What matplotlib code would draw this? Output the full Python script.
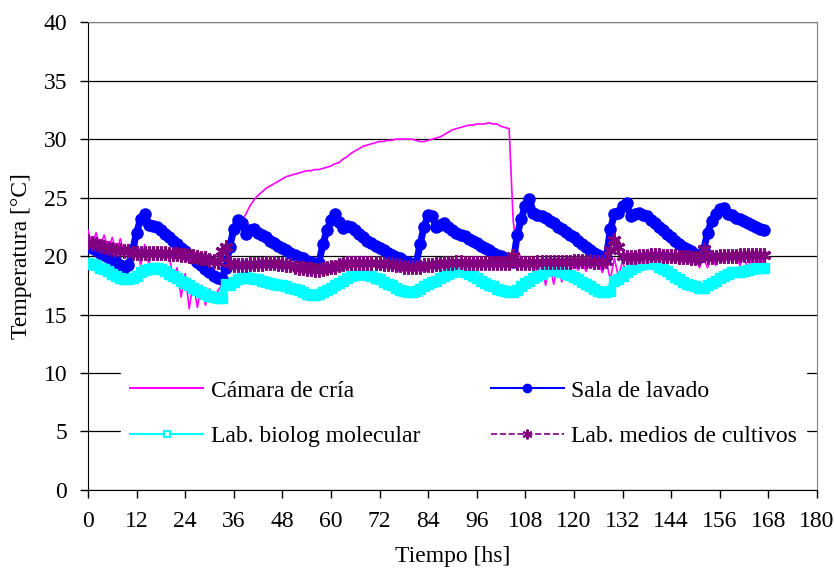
import matplotlib
matplotlib.use("Agg")
import matplotlib.pyplot as plt
from matplotlib.lines import Line2D
import numpy as np

plt.rcParams['font.family'] = ['Liberation Serif', 'DejaVu Serif']

# horas de registro (una lectura por hora)
horas = np.arange(0, 168)

camara_cria = [
    22.2, 21.0, 22.0, 20.8, 21.8, 20.6, 21.6, 20.4, 21.5, 20.0, 21.0, 19.4,
    21.1, 19.2, 21.0, 19.3, 20.6, 20.0, 20.4, 19.8, 20.3, 18.0, 19.0, 16.5,
    18.5, 15.5, 17.8, 15.6, 17.5, 15.8, 17.2, 16.0, 17.0, 17.5, 19.5, 21.0,
    22.0, 22.6, 23.0, 23.6, 24.3, 24.8, 25.2, 25.5, 25.8, 26.0, 26.2, 26.4,
    26.6, 26.8, 26.9, 27.0, 27.1, 27.2, 27.3, 27.3, 27.4, 27.4, 27.5, 27.6,
    27.7, 27.9, 28.0, 28.3, 28.5, 28.8, 29.0, 29.2, 29.4, 29.5, 29.6, 29.7,
    29.8, 29.8, 29.9, 29.9, 30.0, 30.0, 30.0, 30.0, 30.0, 29.9, 29.8, 29.8,
    29.9, 30.0, 30.1, 30.2, 30.4, 30.6, 30.8, 30.9, 31.0, 31.1, 31.2, 31.2,
    31.3, 31.3, 31.3, 31.4, 31.3, 31.3, 31.1, 31.0, 30.9, 23.0, 20.5, 19.8,
    19.5, 19.2, 19.5, 18.5, 19.5, 17.5, 19.3, 17.6, 19.2, 17.8, 19.3, 18.5,
    19.4, 18.8, 19.5, 18.7, 19.5, 18.9, 19.6, 18.6, 19.5, 18.0, 19.8, 18.2,
    19.6, 18.4, 19.7, 18.8, 19.9, 19.0, 20.0, 19.2, 20.0, 19.3, 20.1, 19.4,
    20.1, 19.4, 20.0, 19.3, 19.9, 19.2, 19.8, 19.0, 19.9, 19.0, 20.1, 19.2,
    20.3, 19.4, 20.3, 19.6, 20.1, 19.2, 20.0, 18.8, 20.2, 18.7, 20.3, 18.8,
]

sala_lavado = [
    20.8, 20.7, 20.5, 20.3, 20.1, 19.9, 19.7, 19.5, 19.2, 19.0, 19.2, 20.5,
    22.0, 23.2, 23.6, 22.7, 22.6, 22.5, 22.2, 21.9, 21.6, 21.3, 21.0, 20.7,
    20.4, 20.1, 19.8, 19.5, 19.2, 18.9, 18.6, 18.3, 18.1, 18.0, 19.0, 20.8,
    22.3, 23.1, 22.8, 21.9, 22.2, 22.3, 22.0, 21.8, 21.6, 21.3, 21.1, 20.9,
    20.7, 20.5, 20.3, 20.1, 19.9, 19.8, 19.6, 19.5, 19.3, 19.4, 21.0, 22.2,
    23.1, 23.6, 22.9, 22.4, 22.6, 22.5, 22.2, 21.9, 21.6, 21.3, 21.1, 20.9,
    20.7, 20.5, 20.3, 20.1, 19.9, 19.8, 19.6, 19.5, 19.3, 19.3, 21.0, 22.5,
    23.5, 23.4, 22.5, 22.7, 22.8, 22.5, 22.2, 22.0, 21.8, 21.7, 21.5, 21.3,
    21.1, 20.9, 20.7, 20.5, 20.3, 20.1, 20.0, 19.8, 19.6, 19.5, 21.8, 23.2,
    24.3, 24.9, 23.7, 23.5, 23.4, 23.3, 23.0, 22.8, 22.5, 22.3, 22.1, 21.8,
    21.6, 21.3, 21.0, 20.8, 20.5, 20.3, 20.1, 19.9, 19.9, 22.3, 23.6, 23.7,
    24.3, 24.5, 23.4, 23.6, 23.7, 23.5, 23.4, 23.1, 22.8, 22.5, 22.2, 21.9,
    21.6, 21.3, 21.0, 20.8, 20.6, 20.4, 20.2, 19.9, 20.5, 22.0, 23.0, 23.6,
    24.0, 24.1, 23.6, 23.5, 23.3, 23.2, 23.0, 22.8, 22.7, 22.5, 22.3, 22.2,
]

lab_biolog = [
    19.4, 19.3, 19.2, 19.0, 18.9, 18.7, 18.5, 18.3, 18.1, 18.0, 18.0, 18.1,
    18.3, 18.6, 18.8, 18.9, 19.0, 19.0, 18.9, 18.7, 18.5, 18.3, 18.1, 17.9,
    17.7, 17.5, 17.3, 17.1, 16.9, 16.8, 16.6, 16.5, 16.4, 16.4, 17.6, 17.5,
    17.8, 18.0, 18.1, 18.2, 18.1, 18.0, 18.0, 17.9, 17.8, 17.7, 17.6, 17.5,
    17.5, 17.4, 17.3, 17.2, 17.1, 16.9, 16.8, 16.7, 16.7, 16.8, 16.9, 17.1,
    17.3, 17.5, 17.7, 17.9, 18.1, 18.3, 18.4, 18.5, 18.5, 18.4, 18.3, 18.1,
    18.0, 17.8, 17.6, 17.5, 17.3, 17.1, 17.0, 16.9, 16.9, 17.0, 17.2, 17.4,
    17.6, 17.8, 17.9, 18.1, 18.3, 18.5, 18.6, 18.7, 18.7, 18.6, 18.5, 18.3,
    18.1, 17.9, 17.7, 17.5, 17.4, 17.2, 17.1, 17.0, 16.9, 16.9, 17.1, 17.4,
    17.7, 17.9, 18.1, 18.3, 18.5, 18.7, 18.8, 18.8, 18.7, 18.6, 18.5, 18.4,
    18.2, 18.0, 17.8, 17.6, 17.4, 17.2, 17.0, 16.9, 16.9, 17.0, 17.9, 18.0,
    18.3, 18.6, 18.9, 19.1, 19.2, 19.3, 19.4, 19.4, 19.3, 19.1, 18.9, 18.7,
    18.5, 18.2, 18.0, 17.8, 17.6, 17.5, 17.4, 17.3, 17.3, 17.5, 17.7, 17.9,
    18.1, 18.3, 18.5, 18.6, 18.6, 18.6, 18.7, 18.8, 18.9, 19.0, 19.0, 19.0,
]

lab_medios = [
    21.2, 21.1, 21.0, 20.9, 20.8, 20.7, 20.6, 20.5, 20.5, 20.4, 20.4, 20.3,
    20.3, 20.3, 20.3, 20.3, 20.3, 20.3, 20.3, 20.3, 20.2, 20.2, 20.2, 20.1,
    20.1, 20.0, 20.0, 19.9, 19.8, 19.8, 19.7, 19.6, 19.5, 20.4, 20.8, 19.4,
    19.2, 19.2, 19.2, 19.2, 19.3, 19.3, 19.3, 19.3, 19.4, 19.4, 19.4, 19.3,
    19.3, 19.2, 19.2, 19.1, 19.0, 19.0, 18.9, 18.9, 18.8, 18.8, 18.9, 19.0,
    19.1, 19.1, 19.2, 19.3, 19.4, 19.4, 19.4, 19.4, 19.4, 19.4, 19.4, 19.4,
    19.4, 19.3, 19.3, 19.3, 19.2, 19.2, 19.1, 19.1, 19.1, 19.1, 19.1, 19.2,
    19.2, 19.2, 19.3, 19.3, 19.4, 19.4, 19.4, 19.5, 19.5, 19.4, 19.4, 19.4,
    19.4, 19.4, 19.4, 19.4, 19.4, 19.4, 19.4, 19.4, 19.4, 20.0, 19.4, 19.4,
    19.4, 19.4, 19.4, 19.5, 19.5, 19.5, 19.5, 19.5, 19.5, 19.5, 19.5, 19.5,
    19.6, 19.6, 19.6, 19.6, 19.6, 19.5, 19.5, 19.5, 19.6, 20.5, 21.4, 20.8,
    20.0, 19.9, 19.9, 19.9, 20.0, 20.0, 20.0, 20.1, 20.1, 20.1, 20.0, 20.0,
    20.0, 20.0, 19.9, 19.9, 19.9, 19.8, 19.8, 19.8, 20.6, 19.9, 19.9, 19.9,
    20.0, 20.0, 20.0, 20.0, 20.0, 20.1, 20.1, 20.1, 20.1, 20.1, 20.1, 20.1,
]

etiquetas = ["Cámara de cría", "Sala de lavado",
             "Lab. biolog molecular", "Lab. medios de cultivos"]

fig = plt.figure(figsize=(8.34, 5.71), dpi=100)
ax = fig.add_axes([0.1055, 0.142, 0.874, 0.819])

asterisco = (6, 2, 0)

ax.plot(horas, camara_cria, color='#FF00FF', lw=1.2, zorder=3)
ax.plot(horas, sala_lavado, color='#0000FF', lw=5, marker='o', ms=8,
        mec='#0000FF', solid_capstyle='round', solid_joinstyle='round',
        zorder=4)
ax.plot(horas, lab_biolog, color='#00FFFF', lw=6, marker='s', ms=7,
        mec='#00FFFF', zorder=5)
ax.plot(horas, lab_medios, color='#800080', lw=3, ls='--', marker=asterisco,
        ms=10, mew=2.2, zorder=6)

ax.set_xlim(0, 180)
ax.set_ylim(0, 40)
ax.set_xticks(range(0, 181, 12))
ax.set_yticks(range(0, 41, 5))
ax.yaxis.grid(True, color='black', lw=0.9)
ax.set_axisbelow(True)
ax.tick_params(axis='both', labelsize=17, direction='out', length=6, width=1)
ax.tick_params(axis='x', pad=9)
ax.tick_params(axis='y', pad=9)
for lado in ['top', 'right']:
    ax.spines[lado].set_color('#808080')
ax.set_xlabel('Tiempo [hs]', fontsize=17, labelpad=10)
ax.set_ylabel('Temperatura [°C]', fontsize=17, labelpad=8)

manejadores = [
    Line2D([], [], color='#FF00FF', lw=1.5),
    Line2D([], [], color='#00FFFF', lw=1.5, marker='s', ms=5, mfc='white',
           mec='#00FFFF', mew=1.5),
    Line2D([], [], color='#0000FF', lw=1.5, marker='o', ms=6),
    Line2D([], [], color='#800080', lw=1.2, ls='--', marker=asterisco, ms=7,
           mew=1.5),
]
nombres = [etiquetas[0], etiquetas[2], etiquetas[1], etiquetas[3]]
leg = ax.legend(manejadores, nombres, loc='upper left', ncol=2,
                bbox_to_anchor=(0.045, 0.255), fontsize=17, frameon=True,
                fancybox=False, edgecolor='white', framealpha=1,
                handlelength=3.1, handletextpad=0.3, columnspacing=3.0,
                labelspacing=1.0, borderpad=0.4, borderaxespad=0)
leg.set_zorder(10)

fig.savefig('out.png', dpi=100)
